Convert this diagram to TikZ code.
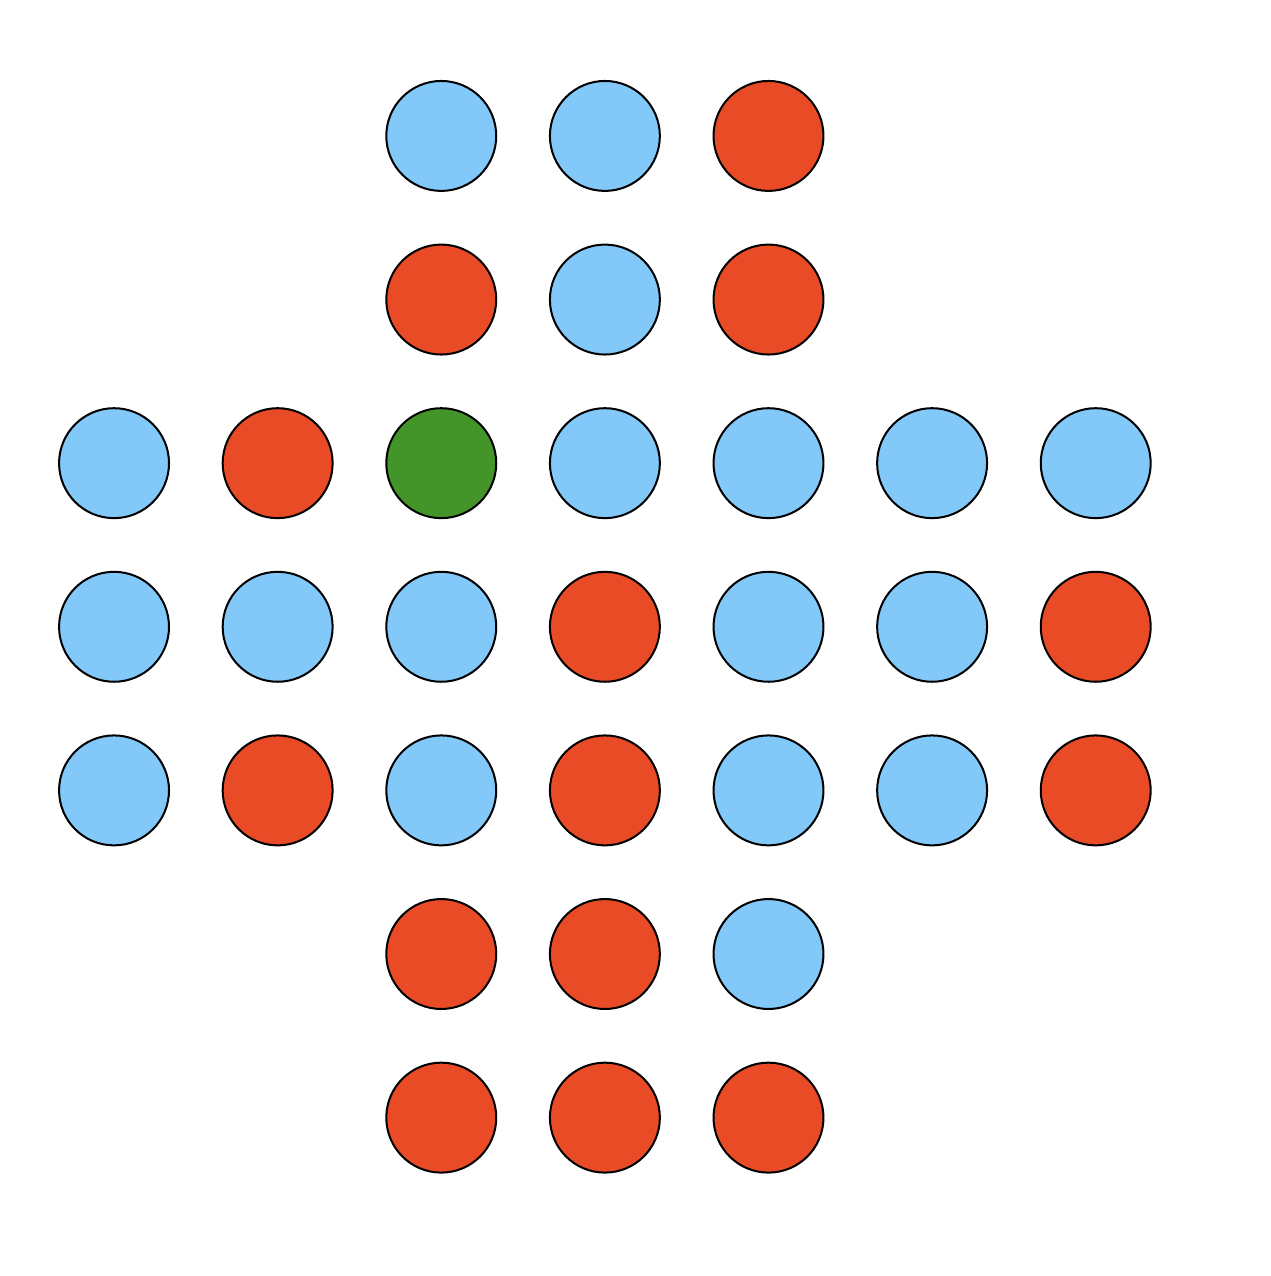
\documentclass[tikz,border=0pt]{standalone}
\usetikzlibrary{positioning}
\definecolor{pegblue}{HTML}{82C8F8}
\definecolor{pegred}{HTML}{E94B27}
\definecolor{peggreen}{HTML}{43952A}

\begin{document}
\begin{tikzpicture}[
  peg/.style={circle, draw=black, line width=0.35pt, minimum size=0.672cm, inner sep=0pt},
  B/.style={peg, fill=pegblue},
  R/.style={peg, fill=pegred},
  G/.style={peg, fill=peggreen}
]
\useasboundingbox (-0.697,-6.968) rectangle (7.066,0.831);

% top arm
\foreach \c/\s in {2/B, 3/B, 4/R}
  \node[\s] (p0\c) at (\c,0) {};
\foreach \c/\s in {2/R, 3/B, 4/R}
  \node[\s] (p1\c) at (\c,-1) {};

% middle band
\foreach \c/\s in {0/B, 1/R, 2/G, 3/B, 4/B, 5/B, 6/B}
  \node[\s] (p2\c) at (\c,-2) {};
\foreach \c/\s in {0/B, 1/B, 2/B, 3/R, 4/B, 5/B, 6/R}
  \node[\s] (p3\c) at (\c,-3) {};
\foreach \c/\s in {0/B, 1/R, 2/B, 3/R, 4/B, 5/B, 6/R}
  \node[\s] (p4\c) at (\c,-4) {};

% bottom arm
\foreach \c/\s in {2/R, 3/R, 4/B}
  \node[\s] (p5\c) at (\c,-5) {};
\foreach \c/\s in {2/R, 3/R, 4/R}
  \node[\s] (p6\c) at (\c,-6) {};

\end{tikzpicture}
\end{document}
